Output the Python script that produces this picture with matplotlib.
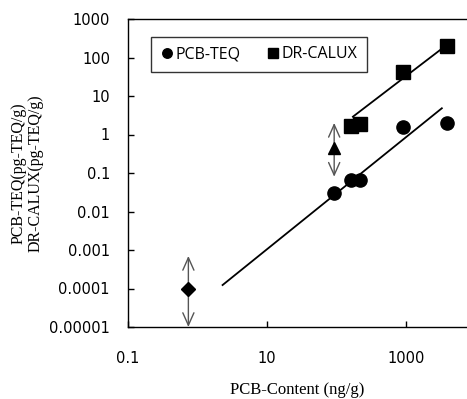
import matplotlib.pyplot as plt

# data
pcb_x = [93, 165, 218, 900, 3870]
pcb_teq = [0.03, 0.066, 0.066, 1.6, 1.95]

calux_x = [165, 218, 900, 3870]
calux_y = [1.7, 1.9, 43, 204]

# fitted lines (end points)
fit_teq_x = [2.3, 3300]
fit_teq_y = [0.000123, 4.8]
fit_calux_x = [173, 3870]
fit_calux_y = [2.9, 211]

# single points with ranges
tri_x, tri_y, tri_range = 93, 0.44, (2.0, 0.08)
dia_x, dia_y, dia_range = 0.74, 0.0001, (0.0007, 0.00001)

fig = plt.figure(figsize=(4.67, 3.99), dpi=100)
ax = fig.add_axes([128 / 467, 1 - 327 / 399, 1 - 128 / 467, (327 - 19) / 399])

ax.plot(fit_teq_x, fit_teq_y, color='black', lw=1.3)
ax.plot(fit_calux_x, fit_calux_y, color='black', lw=1.3)

for x, (top, bot) in [(tri_x, tri_range), (dia_x, dia_range)]:
    ax.annotate('', xy=(x, top), xytext=(x, bot),
                arrowprops=dict(arrowstyle='<->, head_length=0.9, head_width=0.4',
                                color='#555555', lw=1.0, shrinkA=0, shrinkB=0))

ax.plot(pcb_x, pcb_teq, 'o', color='black', ms=9.5, label='PCB-TEQ', zorder=3)
ax.plot(calux_x, calux_y, 's', color='black', ms=9.5, label='DR-CALUX', zorder=3)
ax.plot([tri_x], [tri_y], '^', color='black', ms=9, zorder=3)
ax.plot([dia_x], [dia_y], 'D', color='black', ms=7, zorder=3)

ax.set_xscale('log')
ax.set_yscale('log')
ax.set_xlim(0.1, 7600)
ax.set_ylim(1e-5, 1000)

ax.set_xticks([0.1, 10, 1000])
ax.set_xticklabels(['0.1', '10', '1000'])
ax.set_yticks([1e-5, 1e-4, 1e-3, 1e-2, 0.1, 1, 10, 100, 1000])
ax.set_yticklabels(['0.00001', '0.0001', '0.001', '0.01', '0.1', '1', '10', '100', '1000'])
ax.minorticks_off()
ax.tick_params(axis='both', direction='in', length=4, width=1, labelsize=10.5, colors='black')
ax.tick_params(axis='x', pad=17)
ax.tick_params(axis='y', pad=13)

ax.spines['right'].set_visible(False)
for s in ['left', 'bottom', 'top']:
    ax.spines[s].set_linewidth(1.0)

ax.set_xlabel('PCB-Content (ng/g)', family='Liberation Serif', fontsize=12, labelpad=12)
ax.set_ylabel('PCB-TEQ(pg-TEQ/g)\nDR-CALUX(pg-TEQ/g)', family='Liberation Serif',
              fontsize=11.5, labelpad=4, linespacing=1.1)

leg = ax.legend(loc='upper left', bbox_to_anchor=(0.068, 0.942), borderaxespad=0, ncol=2,
                handlelength=0.8, handletextpad=0.15, columnspacing=1.6, borderpad=0.6,
                markerscale=0.72, fancybox=False, frameon=True,
                prop={'family': 'Open Sans', 'size': 11.5})
leg.get_frame().set_edgecolor('black')
leg.get_frame().set_linewidth(1.0)

fig.savefig('out.png', dpi=100)
